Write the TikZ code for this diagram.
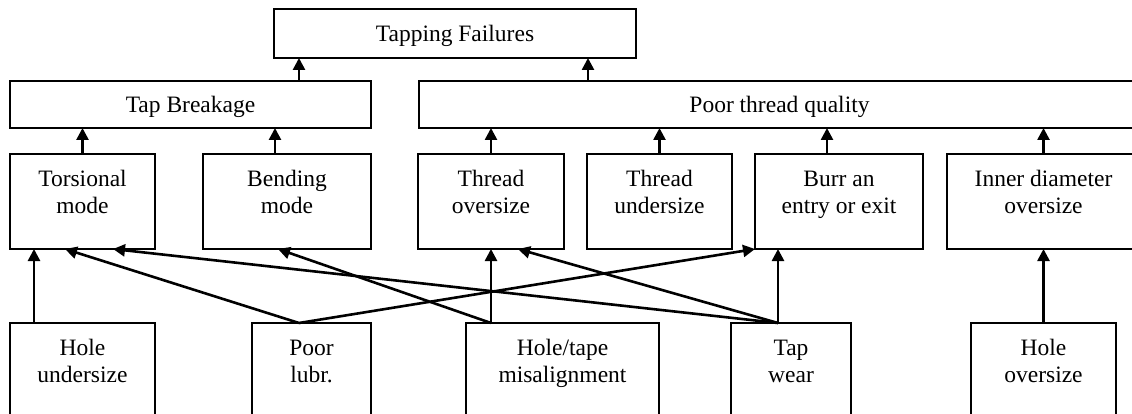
\documentclass[tikz,border=0pt]{standalone}
\usepackage{fontspec}
\setmainfont{Liberation Serif}
\usetikzlibrary{arrows.meta,calc}
\tikzset{
  box/.style={draw, rectangle, line width=2.8pt, inner sep=0pt, outer sep=0pt},
  headbox/.style={box, font=\fontsize{23.5}{27}\selectfont, text height=19pt, text depth=3pt},
  lbl/.style={font=\fontsize{23.5}{27}\selectfont, inner sep=0pt, anchor=base},
  arr/.style={line width=2.6pt, -{Triangle[length=12pt,width=12pt]}},
}
\newcommand{\twoline}[2]{\begin{tabular}[t]{@{}c@{}}#1\\#2\end{tabular}}
\begin{document}
\begin{tikzpicture}[x=1pt,y=-1pt]
\clip (0,0) rectangle (1132,414);
% level 0 and 1
\node[headbox, minimum width=362pt, minimum height=49pt] (tf) at (455,33.5) {Tapping Failures};
\node[headbox, minimum width=361pt, minimum height=47pt] (tb) at (190.5,104.5) {Tap Breakage};
\node[headbox, minimum width=721pt, minimum height=47pt] (ptq) at (779.5,104.5) {Poor thread quality};
% level 2
\node[box, minimum width=145pt, minimum height=95pt] (tors) at (82.5,201.5) {};
\node[box, minimum width=168pt, minimum height=95pt] (bend) at (287,201.5) {};
\node[box, minimum width=146pt, minimum height=95pt] (thro) at (491,201.5) {};
\node[box, minimum width=145pt, minimum height=95pt] (thru) at (659.5,201.5) {};
\node[box, minimum width=168pt, minimum height=95pt] (burr) at (839,201.5) {};
\node[box, minimum width=193pt, minimum height=95pt] (innd) at (1043.5,201.5) {};
\node[lbl] (tTors) at ($(tors.north)+(0,33)$) {\twoline{Torsional}{mode}};
\node[lbl] (tBend) at ($(bend.north)+(0,33)$) {\twoline{Bending}{mode}};
\node[lbl] (tThro) at ($(thro.north)+(0,33)$) {\twoline{Thread}{oversize}};
\node[lbl] (tThru) at ($(thru.north)+(0,33)$) {\twoline{Thread}{undersize}};
\node[lbl] (tBurr) at ($(burr.north)+(0,33)$) {\twoline{Burr an}{entry or exit}};
\node[lbl] (tInnd) at ($(innd.north)+(0,33)$) {\twoline{Inner diameter}{oversize}};
% level 3
\node[box, minimum width=145pt, minimum height=117pt] (hu) at (82.5,381.5) {};
\node[box, minimum width=119pt, minimum height=117pt] (pl) at (311.5,381.5) {};
\node[box, minimum width=193pt, minimum height=117pt] (htm) at (562.5,381.5) {};
\node[box, minimum width=120pt, minimum height=117pt] (tw) at (791,381.5) {};
\node[box, minimum width=145pt, minimum height=117pt] (ho) at (1043.5,381.5) {};
\node[lbl] (tHu) at ($(hu.north)+(0,32)$) {\twoline{Hole}{undersize}};
\node[lbl] (tPl) at ($(pl.north)+(0,32)$) {\twoline{Poor}{lubr.}};
\node[lbl] (tHtm) at ($(htm.north)+(0,32)$) {\twoline{Hole/tape}{misalignment}};
\node[lbl] (tTw) at ($(tw.north)+(0,32)$) {\twoline{Tap}{wear}};
\node[lbl] (tHo) at ($(ho.north)+(0,32)$) {\twoline{Hole}{oversize}};
% anchor points
\coordinate (tbUp) at ($(tb.north west)+(289,0)$);
\coordinate (ptqUp) at ($(ptq.north west)+(169,0)$);
\coordinate (bendUp) at ($(bend.north west)+(72,0)$);
\coordinate (burrUp) at ($(burr.north west)+(72,0)$);
\coordinate (huTop) at ($(hu.north west)+(24,0)$);
\coordinate (plTop) at ($(pl.north west)+(47,0)$);
\coordinate (htmTop) at ($(htm.north west)+(25,0)$);
\coordinate (twTop) at ($(tw.north west)+(47,0)$);
% level 1 -> 0
\draw[arr] (tbUp) -- (tbUp |- tf.south);
\draw[arr] (ptqUp) -- (ptqUp |- tf.south);
% level 2 -> 1
\draw[arr] (tors.north) -- (tors.north |- tb.south);
\draw[arr] (bendUp) -- (bendUp |- tb.south);
\draw[arr] (thro.north) -- (thro.north |- ptq.south);
\draw[arr] (thru.north) -- (thru.north |- ptq.south);
\draw[arr] (burrUp) -- (burrUp |- ptq.south);
\draw[arr] (innd.north) -- (innd.north |- ptq.south);
% level 3 -> 2
\draw[arr] (huTop) -- (huTop |- tors.south);
\draw[arr] (plTop) -- ($(tors.south west)+(55,0)$);
\draw[arr] (plTop) -- (burr.south west);
\draw[arr] (htmTop) -- (htmTop |- thro.south);
\draw[arr] (htmTop) -- ($(bend.south west)+(75,0)$);
\draw[arr] (twTop) -- ($(tors.south west)+(103,0)$);
\draw[arr] (twTop) -- ($(thro.south west)+(100,0)$);
\draw[arr] (twTop) -- (twTop |- burr.south);
\draw[arr] (ho.north) -- (ho.north |- innd.south);
\end{tikzpicture}
\end{document}
